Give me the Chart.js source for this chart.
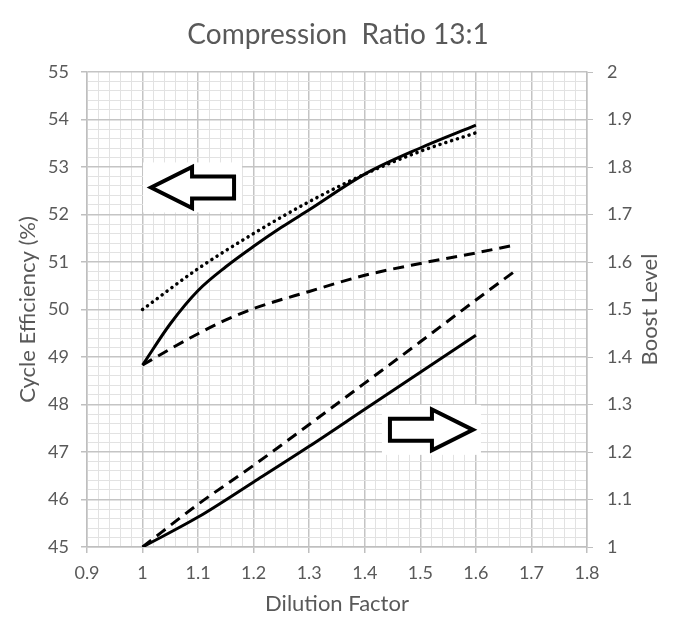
<!DOCTYPE html>
<html>
<head>
<meta charset="utf-8">
<script src="https://cdn.jsdelivr.net/npm/chart.js@4.4.1/dist/chart.umd.min.js"></script>
<style>
  html, body { margin: 0; padding: 0; background: #fff; }
  #wrap { width: 676px; height: 619px; }
</style>
</head>
<body>
<div id="wrap"><canvas id="mainchart"></canvas></div>
<script>
// dilution factor points (x)
var dilutionA = [1.0, 1.05, 1.1, 1.15, 1.2, 1.25, 1.3, 1.4, 1.5, 1.6];
var dilutionB = [1.0, 1.05, 1.1, 1.15, 1.2, 1.3, 1.4, 1.5, 1.6, 1.667];
var dilutionC = [1.0, 1.1, 1.2, 1.3, 1.4, 1.5, 1.6];
var dilutionD = [1.0, 1.1, 1.2, 1.3, 1.4, 1.5, 1.6, 1.667];

// cycle efficiency (%) - left axis
var effSolid  = [48.83, 49.7, 50.4, 50.9, 51.33, 51.73, 52.1, 52.85, 53.4, 53.88];
var effDashed = [48.83, 49.17, 49.49, 49.78, 50.02, 50.38, 50.72, 50.97, 51.19, 51.35];
var effDotted = [50.0, 50.86, 51.6, 52.27, 52.85, 53.33, 53.72];

// boost level - right axis
var boostSolid  = [1.0, 1.063, 1.137, 1.212, 1.29, 1.368, 1.446];
var boostDashed = [1.0, 1.09, 1.172, 1.258, 1.345, 1.432, 1.52, 1.578];

var titleText = 'Compression  Ratio 13:1';
var xTitle = 'Dilution Factor';
var yTitle = 'Cycle Efficiency (%)';
var y1Title = 'Boost Level';

function pts(xs, ys) {
    return xs.map(function (x, i) { return {x: x, y: ys[i]}; });
}
function isMajor(v, per) {
    return Math.abs(v * per - Math.round(v * per)) < 1e-6;
}

var gray = '#595959';
Chart.defaults.font.family = 'Lato';
Chart.defaults.color = gray;

// big hollow arrows pointing at the axis each group belongs to
var arrows = [
    {x: 1.09, y: 52.57, axis: 'y', dir: -1},
    {x: 1.52, y: 1.2466, axis: 'y1', dir: 1}
];

var arrowPlugin = {
    id: 'arrows',
    beforeDatasetsDraw: function (chart) {
        var c = chart.ctx;
        arrows.forEach(function (a) {
            var cx = chart.scales.x.getPixelForValue(a.x);
            var cy = chart.scales[a.axis].getPixelForValue(a.y);
            var len = 83, half = len / 2, headLen = 41, headH = 20.5, shaftH = 11;
            c.save();
            c.fillStyle = '#fff';
            c.fillRect(cx - half - 8, cy - 25, len + 16, 50);
            c.translate(cx, cy);
            c.scale(a.dir, 1);
            // drawn pointing right, flipped for left
            c.beginPath();
            c.moveTo(-half, -shaftH);
            c.lineTo(half - headLen, -shaftH);
            c.lineTo(half - headLen, -headH);
            c.lineTo(half, 0);
            c.lineTo(half - headLen, headH);
            c.lineTo(half - headLen, shaftH);
            c.lineTo(-half, shaftH);
            c.closePath();
            c.fillStyle = '#fff';
            c.fill();
            c.lineWidth = 4;
            c.lineJoin = 'miter';
            c.strokeStyle = '#000';
            c.stroke();
            c.restore();
        });
    },
    afterDraw: function (chart) {
        // right axis title reads bottom to top like the left one
        var s = chart.scales.y1;
        var c = chart.ctx;
        c.save();
        c.font = '22px Lato';
        c.fillStyle = gray;
        c.textAlign = 'center';
        c.textBaseline = 'middle';
        c.translate(s.right - 26, (chart.chartArea.top + chart.chartArea.bottom) / 2);
        c.rotate(-Math.PI / 2);
        c.fillText(y1Title, 0, 0);
        c.restore();
    }
};

var ctx = document.getElementById('mainchart').getContext('2d');
var chart = new Chart(ctx, {
    type: 'line',
    data: {
        datasets: [
            {
                label: 'Efficiency solid',
                data: pts(dilutionA, effSolid),
                borderColor: '#000', borderWidth: 3, yAxisID: 'y'
            },
            {
                label: 'Efficiency dotted',
                data: pts(dilutionC, effDotted),
                borderColor: '#000', borderWidth: 3.5, borderDash: [0.1, 6],
                borderCapStyle: 'round', yAxisID: 'y'
            },
            {
                label: 'Efficiency dashed',
                data: pts(dilutionB, effDashed),
                borderColor: '#000', borderWidth: 3, borderDash: [11, 7], yAxisID: 'y'
            },
            {
                label: 'Boost solid',
                data: pts(dilutionC, boostSolid),
                borderColor: '#000', borderWidth: 3, yAxisID: 'y1'
            },
            {
                label: 'Boost dashed',
                data: pts(dilutionD, boostDashed),
                borderColor: '#000', borderWidth: 3, borderDash: [11, 7], yAxisID: 'y1'
            }
        ]
    },
    options: {
        responsive: true,
        maintainAspectRatio: false,
        animation: false,
        layout: {padding: 0},
        elements: {
            point: {radius: 0, hoverRadius: 0},
            line: {cubicInterpolationMode: 'monotone', fill: false}
        },
        plugins: {
            legend: {display: false},
            tooltip: {enabled: false},
            title: {
                display: true,
                text: titleText,
                color: gray,
                font: {size: 28, weight: 'normal'},
                padding: {top: 18, bottom: 20.4}
            }
        },
        scales: {
            x: {
                type: 'linear', min: 0.9, max: 1.8,
                afterFit: function (s) { s.height = 72; },
                border: {color: '#bfbfbf', width: 1.5},
                grid: {
                    color: function (c) { return isMajor(c.tick.value, 10) ? '#c4c4c4' : '#e2e2e2'; },
                    lineWidth: function (c) { return isMajor(c.tick.value, 10) ? 1.5 : 1; },
                    tickColor: function (c) { return isMajor(c.tick.value, 10) ? '#bfbfbf' : 'rgba(0,0,0,0)'; },
                    tickLength: 6
                },
                ticks: {
                    stepSize: 0.02, autoSkip: false, maxRotation: 0, padding: 9,
                    font: {size: 18},
                    callback: function (v) { return isMajor(v, 10) ? String(Math.round(v * 10) / 10) : ''; }
                },
                title: {display: true, text: xTitle, font: {size: 22}, padding: {top: 0, bottom: 2}}
            },
            y: {
                type: 'linear', position: 'left', min: 45, max: 55,
                afterFit: function (s) { s.width = 87; },
                border: {color: '#bfbfbf', width: 1.5},
                grid: {
                    color: function (c) { return isMajor(c.tick.value, 1) ? '#c4c4c4' : '#e2e2e2'; },
                    lineWidth: function (c) { return isMajor(c.tick.value, 1) ? 1.5 : 1; },
                    tickColor: function (c) { return isMajor(c.tick.value, 1) ? '#bfbfbf' : 'rgba(0,0,0,0)'; },
                    tickLength: 6
                },
                ticks: {
                    stepSize: 0.2, autoSkip: false, padding: 12,
                    font: {size: 18},
                    callback: function (v) { return isMajor(v, 1) ? String(Math.round(v)) : ''; }
                },
                title: {display: true, text: yTitle, font: {size: 22}, padding: {top: 15, bottom: 0}}
            },
            y1: {
                type: 'linear', position: 'right', min: 1, max: 2,
                afterFit: function (s) { s.width = 89; },
                border: {color: '#bfbfbf', width: 1.5},
                grid: {
                    drawOnChartArea: false,
                    tickColor: function (c) { return isMajor(c.tick.value, 10) ? '#bfbfbf' : 'rgba(0,0,0,0)'; },
                    tickLength: 6
                },
                ticks: {
                    stepSize: 0.02, autoSkip: false, padding: 14,
                    font: {size: 18},
                    callback: function (v) { return isMajor(v, 10) ? String(Math.round(v * 10) / 10) : ''; }
                }
            }
        }
    },
    plugins: [arrowPlugin]
});
</script>
</body>
</html>
